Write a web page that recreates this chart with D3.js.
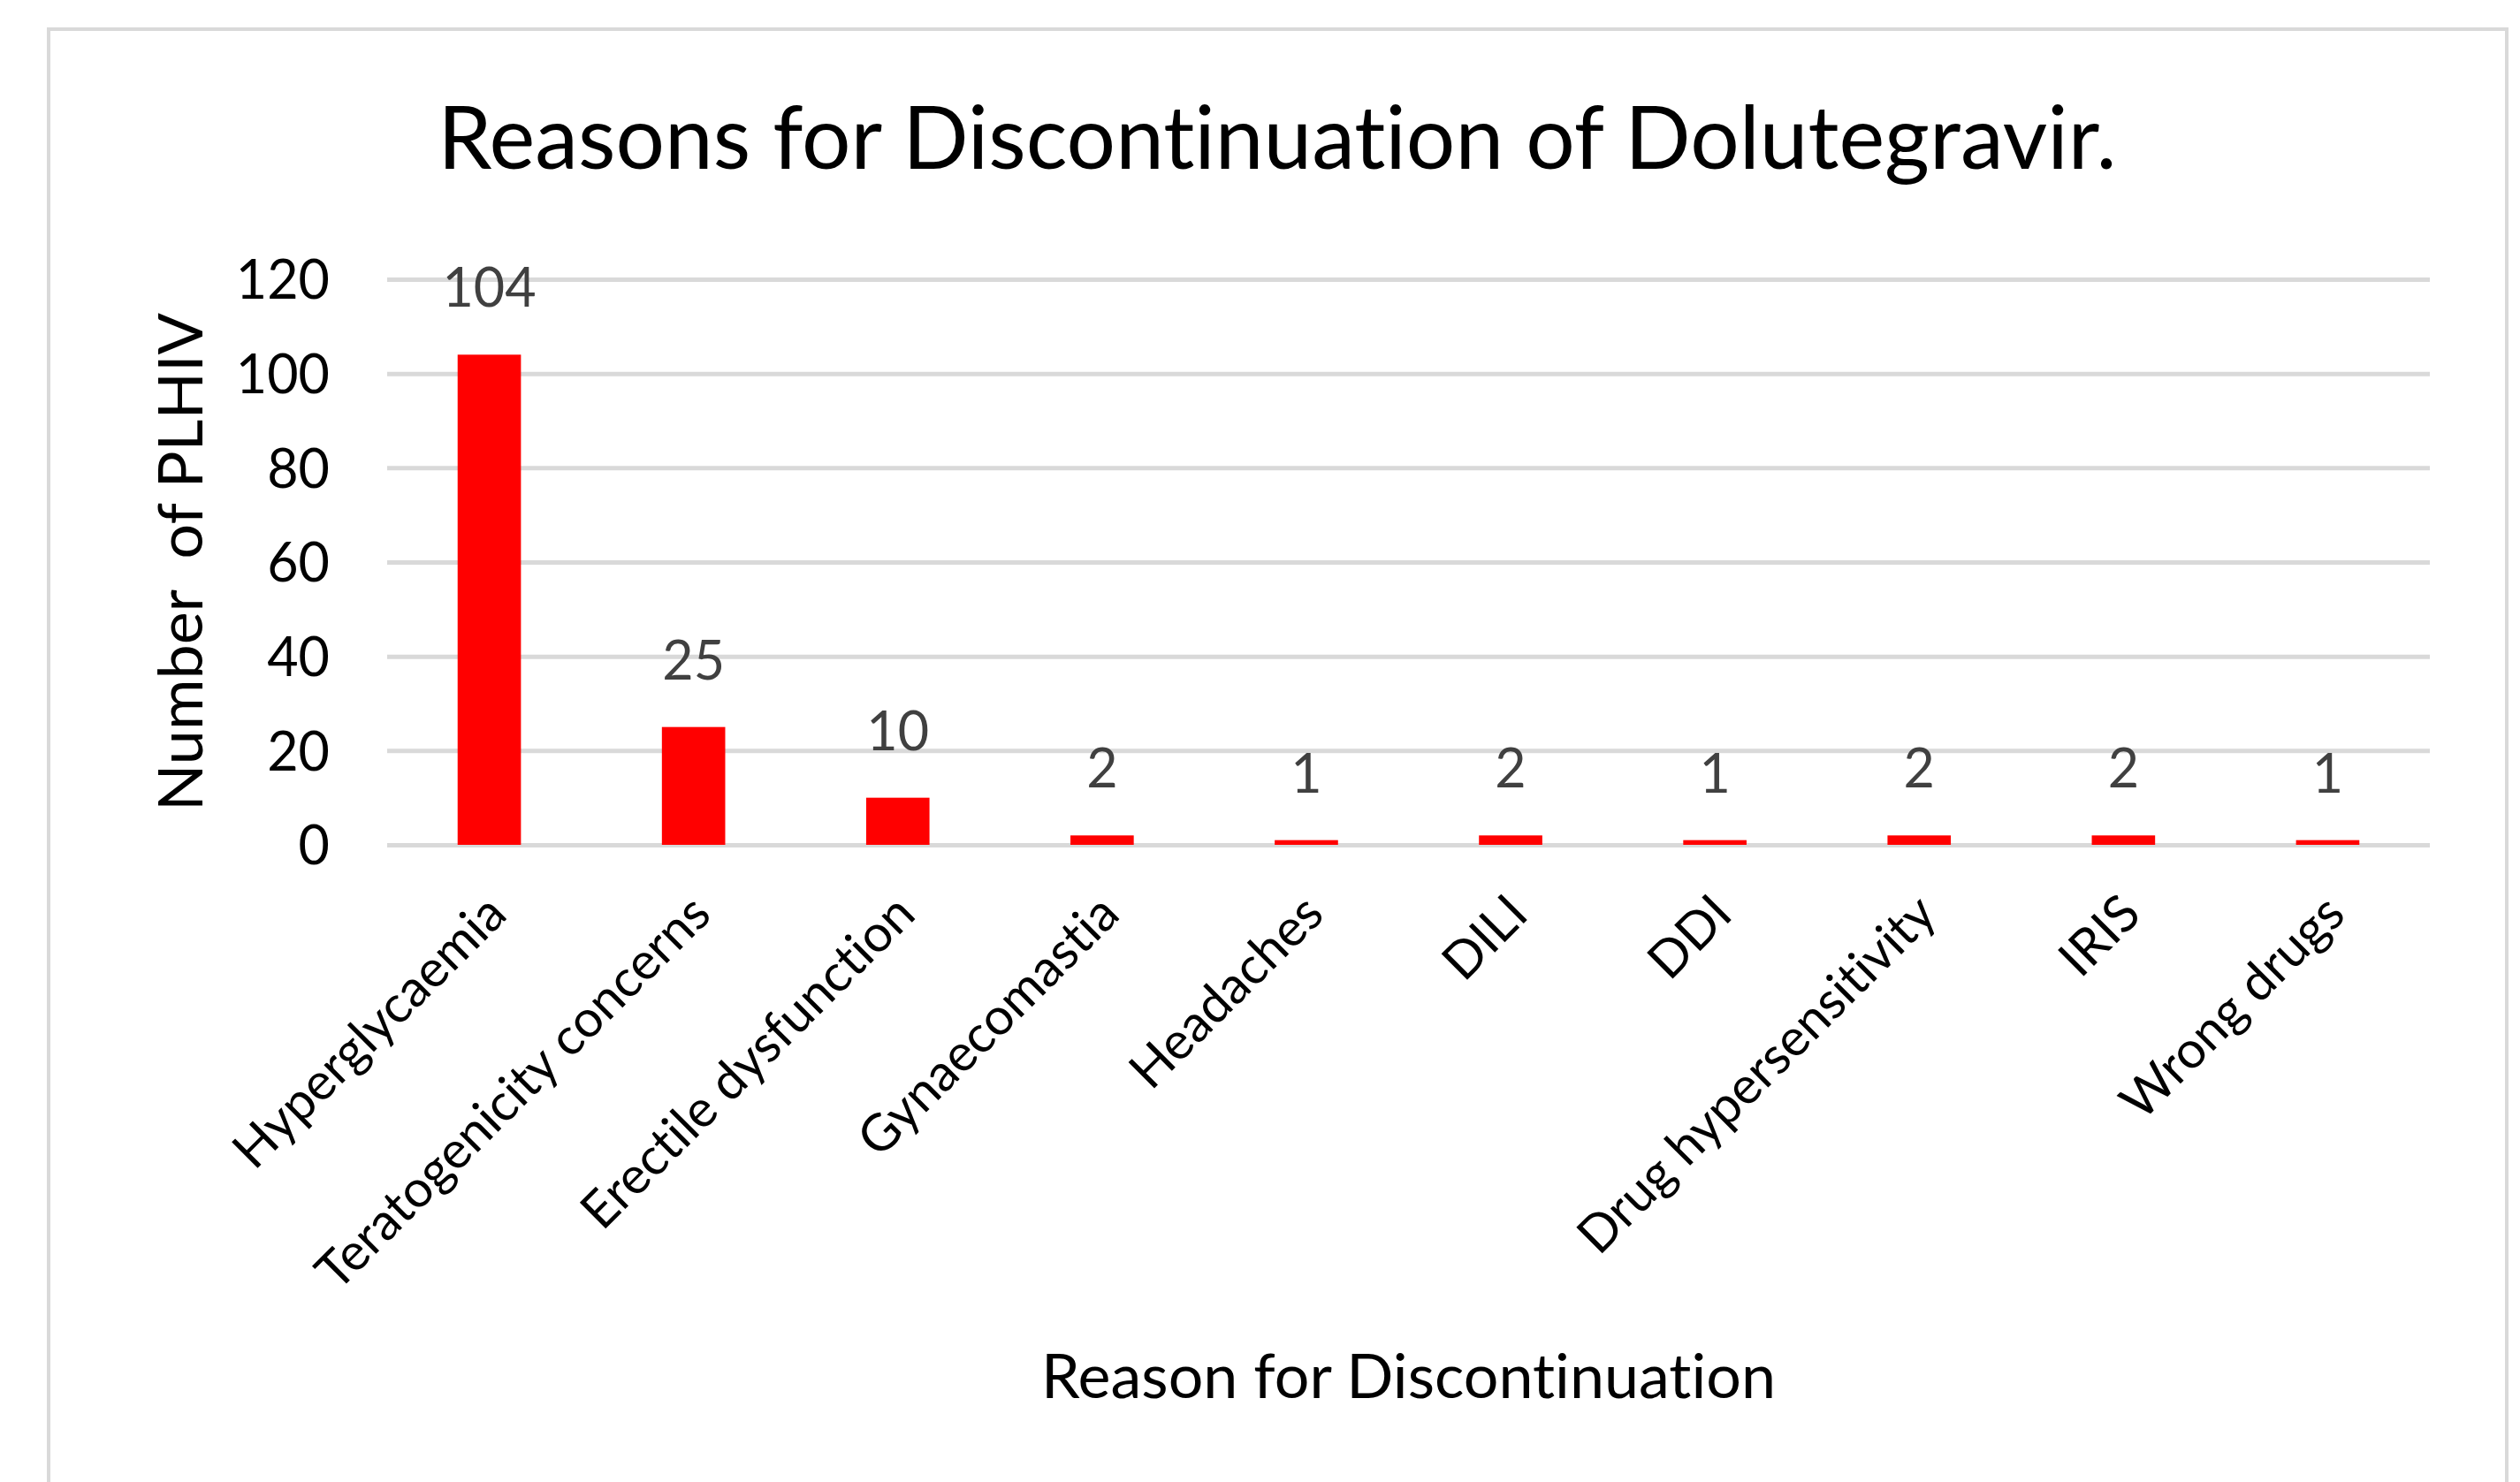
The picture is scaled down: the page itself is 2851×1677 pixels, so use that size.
<!DOCTYPE html>
<html lang="en">
<head>
<meta charset="utf-8">
<title>Reasons for Discontinuation of Dolutegravir</title>
<script src="https://d3js.org/d3.v7.min.js"></script>
<style>
  body { margin: 0; background: #fff; }
  text { font-family: Lato, "Open Sans", sans-serif; font-variant-ligatures: none; }
</style>
</head>
<body>
<div id="chart"></div>
<script>
	// data
	var categories = ['Hyperglycaemia', 'Teratogenicity concerns', 'Erectile dysfunction', 'Gynaecomastia',
		'Headaches', 'DILI', 'DDI', 'Drug hypersensitivity', 'IRIS', 'Wrong drugs'];
	var counts = [104, 25, 10, 2, 1, 2, 1, 2, 2, 1];
	var yTicks = [0, 20, 40, 60, 80, 100, 120];

	var W = 2851, H = 1677;
	var plot = {left: 438, right: 2749, top: 316, bottom: 956};

	var svg = d3.select("#chart")
		.append("svg")
		.attr("width", W)
		.attr("height", H);

	// chart frame
	svg.append("rect")
		.attr("x", 55).attr("y", 33)
		.attr("width", 2836 - 55).attr("height", H)
		.attr("fill", "none")
		.attr("stroke", "#d9d9d9")
		.attr("stroke-width", 4);

	var x = d3.scaleBand()
		.domain(categories)
		.range([plot.left, plot.right])
		.paddingInner(0.69)
		.paddingOuter(0.345);

	var y = d3.scaleLinear()
		.domain([0, 120])
		.range([plot.bottom, plot.top]);

	// y axis + gridlines
	var yAxis = svg.append("g")
		.attr("transform", "translate(" + plot.left + ",0)")
		.call(d3.axisLeft(y)
			.tickValues(yTicks)
			.tickSizeInner(-(plot.right - plot.left))
			.tickSizeOuter(0)
			.tickPadding(65));
	yAxis.select(".domain").remove();
	yAxis.selectAll(".tick line")
		.attr("stroke", "#d9d9d9")
		.attr("stroke-width", 5);
	yAxis.selectAll(".tick text")
		.attr("fill", "#000")
		.style("font-size", "61px")
		.attr("dy", "0.36em");

	// bars
	svg.selectAll(".bar")
		.data(counts)
		.enter()
		.append("rect")
		.attr("class", "bar")
		.attr("x", function(d, i) { return x(categories[i]); })
		.attr("width", x.bandwidth())
		.attr("y", function(d) { return y(d); })
		.attr("height", function(d) { return y(0) - y(d); })
		.attr("fill", "#ff0000");

	// value labels
	svg.selectAll(".val")
		.data(counts)
		.enter()
		.append("text")
		.attr("class", "val")
		.attr("x", function(d, i) { return x(categories[i]) + x.bandwidth() / 2; })
		.attr("y", function(d) { return y(d) - 54; })
		.attr("text-anchor", "middle")
		.attr("fill", "#404040")
		.style("font-size", "61px")
		.text(function(d) { return d; });

	// x axis, rotated labels
	var xAxis = svg.append("g")
		.attr("transform", "translate(0," + plot.bottom + ")")
		.call(d3.axisBottom(x).tickSize(0).tickPadding(0));
	xAxis.select(".domain").remove();
	xAxis.selectAll(".tick text")
		.attr("fill", "#000")
		.style("font-size", "58px")
		.attr("text-anchor", "end")
		.attr("y", 0)
		.attr("dy", "0.35em")
		.attr("transform", "translate(8,67) rotate(-45)");

	// titles
	svg.append("text")
		.attr("x", 1445).attr("y", 191)
		.attr("text-anchor", "middle")
		.attr("fill", "#000")
		.style("font-size", "98px")
		.text("Reasons for Discontinuation of Dolutegravir.");

	svg.append("text")
		.attr("x", (plot.left + plot.right) / 2).attr("y", 1582)
		.attr("text-anchor", "middle")
		.attr("fill", "#000")
		.style("font-size", "70px")
		.text("Reason for Discontinuation");

	svg.append("text")
		.attr("transform", "translate(229," + (plot.top + plot.bottom) / 2 + ") rotate(-90)")
		.attr("text-anchor", "middle")
		.attr("fill", "#000")
		.style("font-size", "70px")
		.style("white-space", "pre")
		.text("Number  of PLHIV");
</script>
</body>
</html>
